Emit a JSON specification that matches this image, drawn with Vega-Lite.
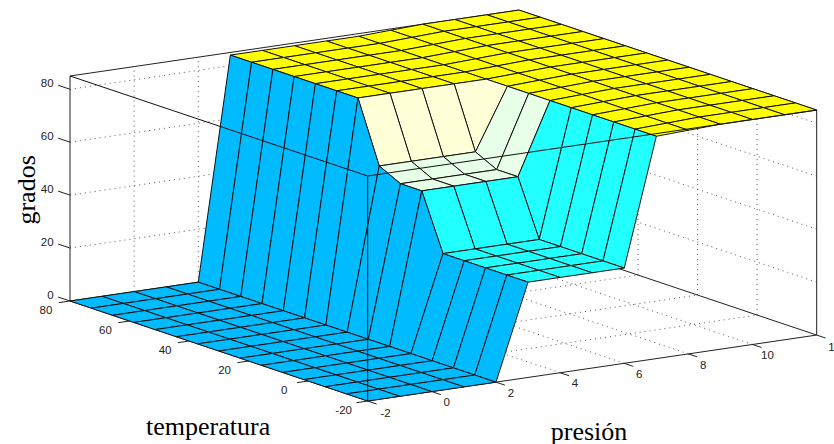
{"$schema":"https://vega.github.io/schema/vega-lite/v6.json","width":834,"height":444,"padding":0,"autosize":{"type":"none"},"background":"white","config":{"view":{"stroke":null}},
"datasets":{
"lines":[
{"s":"d","p":-2,"t":80,"z":20,"p2":12,"t2":80,"z2":20},{"s":"d","p":-2,"t":80,"z":40,"p2":12,"t2":80,"z2":40},{"s":"d","p":-2,"t":80,"z":60,"p2":12,"t2":80,"z2":60},{"s":"d","p":-2,"t":80,"z":80,"p2":12,"t2":80,"z2":80},
{"s":"d","p":12,"t":-20,"z":20,"p2":12,"t2":80,"z2":20},{"s":"d","p":12,"t":-20,"z":40,"p2":12,"t2":80,"z2":40},{"s":"d","p":12,"t":-20,"z":60,"p2":12,"t2":80,"z2":60},{"s":"d","p":12,"t":-20,"z":80,"p2":12,"t2":80,"z2":80},
{"s":"d","p":0,"t":80,"z":0,"p2":0,"t2":80,"z2":85},{"s":"d","p":2,"t":80,"z":0,"p2":2,"t2":80,"z2":85},{"s":"d","p":4,"t":80,"z":0,"p2":4,"t2":80,"z2":85},{"s":"d","p":6,"t":80,"z":0,"p2":6,"t2":80,"z2":85},{"s":"d","p":8,"t":80,"z":0,"p2":8,"t2":80,"z2":85},{"s":"d","p":10,"t":80,"z":0,"p2":10,"t2":80,"z2":85},
{"s":"d","p":12,"t":0,"z":0,"p2":12,"t2":0,"z2":85},{"s":"d","p":12,"t":20,"z":0,"p2":12,"t2":20,"z2":85},{"s":"d","p":12,"t":40,"z":0,"p2":12,"t2":40,"z2":85},{"s":"d","p":12,"t":60,"z":0,"p2":12,"t2":60,"z2":85},
{"s":"d","p":0,"t":-20,"z":0,"p2":0,"t2":80,"z2":0},{"s":"d","p":2,"t":-20,"z":0,"p2":2,"t2":80,"z2":0},{"s":"d","p":4,"t":-20,"z":0,"p2":4,"t2":80,"z2":0},{"s":"d","p":6,"t":-20,"z":0,"p2":6,"t2":80,"z2":0},{"s":"d","p":8,"t":-20,"z":0,"p2":8,"t2":80,"z2":0},{"s":"d","p":10,"t":-20,"z":0,"p2":10,"t2":80,"z2":0},
{"s":"d","p":-2,"t":0,"z":0,"p2":12,"t2":0,"z2":0},{"s":"d","p":-2,"t":20,"z":0,"p2":12,"t2":20,"z2":0},{"s":"d","p":-2,"t":40,"z":0,"p2":12,"t2":40,"z2":0},{"s":"d","p":-2,"t":60,"z":0,"p2":12,"t2":60,"z2":0},
{"s":"s","p":-2,"t":80,"z":0,"p2":-2,"t2":80,"z2":85},{"s":"s","p":12,"t":-20,"z":0,"p2":12,"t2":-20,"z2":85},{"s":"s","p":12,"t":80,"z":0,"p2":12,"t2":80,"z2":85},{"s":"s","p":-2,"t":80,"z":85,"p2":12,"t2":80,"z2":85},{"s":"s","p":12,"t":80,"z":85,"p2":12,"t2":-20,"z2":85},{"s":"s","p":-2,"t":-20,"z":0,"p2":12,"t2":-20,"z2":0},{"s":"s","p":-2,"t":-20,"z":0,"p2":-2,"t2":80,"z2":0},{"s":"s","p":12,"t":-20,"z":0,"p2":12,"t2":80,"z2":0},{"s":"s","p":-2,"t":80,"z":0,"p2":12,"t2":80,"z2":0},
{"s":"s","p":-2,"t":80,"z":0,"p2":-2,"t2":84,"z2":0},{"s":"s","p":-2,"t":80,"z":20,"p2":-2,"t2":84,"z2":20},{"s":"s","p":-2,"t":80,"z":40,"p2":-2,"t2":84,"z2":40},{"s":"s","p":-2,"t":80,"z":60,"p2":-2,"t2":84,"z2":60},{"s":"s","p":-2,"t":80,"z":80,"p2":-2,"t2":84,"z2":80},
{"s":"s","p":-2,"t":80,"z":0,"p2":-2.35,"t2":80,"z2":0},{"s":"s","p":-2,"t":60,"z":0,"p2":-2.35,"t2":60,"z2":0},{"s":"s","p":-2,"t":40,"z":0,"p2":-2.35,"t2":40,"z2":0},{"s":"s","p":-2,"t":20,"z":0,"p2":-2.35,"t2":20,"z2":0},{"s":"s","p":-2,"t":0,"z":0,"p2":-2.35,"t2":0,"z2":0},{"s":"s","p":-2,"t":-20,"z":0,"p2":-2.35,"t2":-20,"z2":0},
{"s":"s","p":-2,"t":-20,"z":0,"p2":-2,"t2":-23,"z2":0},{"s":"s","p":0,"t":-20,"z":0,"p2":0,"t2":-23,"z2":0},{"s":"s","p":2,"t":-20,"z":0,"p2":2,"t2":-23,"z2":0},{"s":"s","p":4,"t":-20,"z":0,"p2":4,"t2":-23,"z2":0},{"s":"s","p":6,"t":-20,"z":0,"p2":6,"t2":-23,"z2":0},{"s":"s","p":8,"t":-20,"z":0,"p2":8,"t2":-23,"z2":0},{"s":"s","p":10,"t":-20,"z":0,"p2":10,"t2":-23,"z2":0},{"s":"s","p":12,"t":-20,"z":0,"p2":12,"t2":-23,"z2":0},
{"s":"f","p":-2,"t":80,"z":85,"p2":-2,"t2":-20,"z2":85},{"s":"f","p":-2,"t":-20,"z":85,"p2":12,"t2":-20,"z2":85},{"s":"f","p":-2,"t":-20,"z":0,"p2":-2,"t2":-20,"z2":85}
],
"labels":[
{"k":"a","text":"0","p":-2,"t":85.5,"z":0},{"k":"a","text":"20","p":-2,"t":85.5,"z":20},{"k":"a","text":"40","p":-2,"t":85.5,"z":40},{"k":"a","text":"60","p":-2,"t":85.5,"z":60},{"k":"a","text":"80","p":-2,"t":85.5,"z":80},
{"k":"b","text":"80","p":-2.75,"t":80,"z":-2.6},{"k":"b","text":"60","p":-2.75,"t":60,"z":-2.6},{"k":"b","text":"40","p":-2.75,"t":40,"z":-2.6},{"k":"b","text":"20","p":-2.75,"t":20,"z":-2.6},{"k":"b","text":"0","p":-2.75,"t":0,"z":-2.6},{"k":"b","text":"-20","p":-2.75,"t":-20,"z":-2.6},
{"k":"b","text":"-2","p":-2,"t":-26,"z":-2.5},{"k":"b","text":"0","p":0,"t":-25,"z":-2.5},{"k":"b","text":"2","p":2,"t":-25,"z":-2.5},{"k":"b","text":"4","p":4,"t":-25,"z":-2.5},{"k":"b","text":"6","p":6,"t":-25,"z":-2.5},{"k":"b","text":"8","p":8,"t":-25,"z":-2.5},{"k":"b","text":"10","p":10,"t":-25,"z":-2.5},{"k":"b","text":"12","p":12,"t":-26,"z":-2.5},
{"k":"c","text":"temperatura","p":-2,"t":33.6,"z":-30.2},{"k":"c","text":"presión","p":4.9,"t":-20,"z":-24},{"k":"d","text":"grados","p":-2,"t":94.5,"z":36.5}
],
"grid":[
{"id":1414,"p":12,"t":80,"z":85},{"id":1413,"p":12,"t":72.86,"z":85},{"id":1412,"p":12,"t":65.71,"z":85},{"id":1411,"p":12,"t":58.57,"z":85},{"id":1410,"p":12,"t":51.43,"z":85},{"id":1409,"p":12,"t":44.29,"z":85},{"id":1408,"p":12,"t":37.14,"z":85},{"id":1407,"p":12,"t":30,"z":85},{"id":1406,"p":12,"t":22.86,"z":85},{"id":1405,"p":12,"t":15.71,"z":85},{"id":1404,"p":12,"t":8.57,"z":85},{"id":1403,"p":12,"t":1.43,"z":85},{"id":1402,"p":12,"t":-5.71,"z":85},{"id":1401,"p":12,"t":-12.86,"z":85},{"id":1400,"p":12,"t":-20,"z":85},
{"id":1314,"p":11,"t":80,"z":85},{"id":1313,"p":11,"t":72.86,"z":85,"c":"a"},{"id":1312,"p":11,"t":65.71,"z":85,"c":"a"},{"id":1311,"p":11,"t":58.57,"z":85,"c":"a"},{"id":1310,"p":11,"t":51.43,"z":85,"c":"a"},{"id":1309,"p":11,"t":44.29,"z":85,"c":"a"},{"id":1308,"p":11,"t":37.14,"z":85,"c":"a"},{"id":1307,"p":11,"t":30,"z":85,"c":"a"},{"id":1306,"p":11,"t":22.86,"z":85,"c":"a"},{"id":1305,"p":11,"t":15.71,"z":85,"c":"a"},{"id":1304,"p":11,"t":8.57,"z":85,"c":"a"},{"id":1303,"p":11,"t":1.43,"z":85,"c":"a"},{"id":1302,"p":11,"t":-5.71,"z":85,"c":"a"},{"id":1301,"p":11,"t":-12.86,"z":85,"c":"a"},{"id":1300,"p":11,"t":-20,"z":85,"c":"a"},
{"id":1214,"p":10,"t":80,"z":85},{"id":1213,"p":10,"t":72.86,"z":85,"c":"a"},{"id":1212,"p":10,"t":65.71,"z":85,"c":"a"},{"id":1211,"p":10,"t":58.57,"z":85,"c":"a"},{"id":1210,"p":10,"t":51.43,"z":85,"c":"a"},{"id":1209,"p":10,"t":44.29,"z":85,"c":"a"},{"id":1208,"p":10,"t":37.14,"z":85,"c":"a"},{"id":1207,"p":10,"t":30,"z":85,"c":"a"},{"id":1206,"p":10,"t":22.86,"z":85,"c":"a"},{"id":1205,"p":10,"t":15.71,"z":85,"c":"a"},{"id":1204,"p":10,"t":8.57,"z":85,"c":"a"},{"id":1203,"p":10,"t":1.43,"z":85,"c":"a"},{"id":1202,"p":10,"t":-5.71,"z":85,"c":"a"},{"id":1201,"p":10,"t":-12.86,"z":85,"c":"a"},{"id":1200,"p":10,"t":-20,"z":85,"c":"a"},
{"id":1114,"p":9,"t":80,"z":85},{"id":1113,"p":9,"t":72.86,"z":85,"c":"a"},{"id":1112,"p":9,"t":65.71,"z":85,"c":"a"},{"id":1111,"p":9,"t":58.57,"z":85,"c":"a"},{"id":1110,"p":9,"t":51.43,"z":85,"c":"a"},{"id":1109,"p":9,"t":44.29,"z":85,"c":"a"},{"id":1108,"p":9,"t":37.14,"z":85,"c":"a"},{"id":1107,"p":9,"t":30,"z":85,"c":"a"},{"id":1106,"p":9,"t":22.86,"z":85,"c":"a"},{"id":1105,"p":9,"t":15.71,"z":85,"c":"a"},{"id":1104,"p":9,"t":8.57,"z":85,"c":"a"},{"id":1103,"p":9,"t":1.43,"z":85,"c":"a"},{"id":1102,"p":9,"t":-5.71,"z":85,"c":"a"},{"id":1101,"p":9,"t":-12.86,"z":85,"c":"a"},{"id":1100,"p":9,"t":-20,"z":85,"c":"a"},
{"id":1014,"p":8,"t":80,"z":84.5},{"id":1013,"p":8,"t":72.86,"z":84.5,"c":"a"},{"id":1012,"p":8,"t":65.71,"z":84.5,"c":"a"},{"id":1011,"p":8,"t":58.57,"z":84.5,"c":"a"},{"id":1010,"p":8,"t":51.43,"z":84.5,"c":"a"},{"id":1009,"p":8,"t":44.29,"z":84.5,"c":"a"},{"id":1008,"p":8,"t":37.14,"z":84.5,"c":"a"},{"id":1007,"p":8,"t":30,"z":84.5,"c":"a"},{"id":1006,"p":8,"t":22.86,"z":84.5,"c":"a"},{"id":1005,"p":8,"t":15.71,"z":84.5,"c":"a"},{"id":1004,"p":8,"t":8.57,"z":84.5,"c":"a"},{"id":1003,"p":8,"t":1.43,"z":84.5,"c":"a"},{"id":1002,"p":8,"t":-5.71,"z":84.5,"c":"a"},{"id":1001,"p":8,"t":-12.86,"z":84.5,"c":"a"},{"id":1000,"p":8,"t":-20,"z":84.5,"c":"a"},
{"id":914,"p":7,"t":80,"z":84},{"id":913,"p":7,"t":72.86,"z":84,"c":"a"},{"id":912,"p":7,"t":65.71,"z":84,"c":"a"},{"id":911,"p":7,"t":58.57,"z":84,"c":"a"},{"id":910,"p":7,"t":51.43,"z":84,"c":"a"},{"id":909,"p":7,"t":44.29,"z":84,"c":"a"},{"id":908,"p":7,"t":37.14,"z":84,"c":"a"},{"id":907,"p":7,"t":30,"z":84,"c":"a"},{"id":906,"p":7,"t":22.86,"z":84,"c":"a"},{"id":905,"p":7,"t":15.71,"z":84,"c":"a"},{"id":904,"p":7,"t":8.57,"z":84,"c":"a"},{"id":903,"p":7,"t":1.43,"z":84,"c":"a"},{"id":902,"p":7,"t":-5.71,"z":84,"c":"a"},{"id":901,"p":7,"t":-12.86,"z":84,"c":"a"},{"id":900,"p":7,"t":-20,"z":84,"c":"a"},
{"id":814,"p":6,"t":80,"z":84},{"id":813,"p":6,"t":72.86,"z":84,"c":"a"},{"id":812,"p":6,"t":65.71,"z":84,"c":"a"},{"id":811,"p":6,"t":58.57,"z":84,"c":"a"},{"id":810,"p":6,"t":51.43,"z":84,"c":"a"},{"id":809,"p":6,"t":44.29,"z":84,"c":"a"},{"id":808,"p":6,"t":37.14,"z":84,"c":"a"},{"id":807,"p":6,"t":30,"z":61,"c":"b"},{"id":806,"p":6,"t":22.86,"z":57,"c":"g"},{"id":805,"p":6,"t":15.71,"z":57,"c":"g"},{"id":804,"p":6,"t":8.57,"z":36,"c":"c"},{"id":803,"p":6,"t":1.43,"z":36,"c":"c"},{"id":802,"p":6,"t":-5.71,"z":36,"c":"c"},{"id":801,"p":6,"t":-12.86,"z":36,"c":"c"},{"id":800,"p":6,"t":-20,"z":36,"c":"c"},
{"id":714,"p":5,"t":80,"z":84},{"id":713,"p":5,"t":72.86,"z":84,"c":"a"},{"id":712,"p":5,"t":65.71,"z":84,"c":"a"},{"id":711,"p":5,"t":58.57,"z":84,"c":"a"},{"id":710,"p":5,"t":51.43,"z":84,"c":"a"},{"id":709,"p":5,"t":44.29,"z":84,"c":"a"},{"id":708,"p":5,"t":37.14,"z":84,"c":"a"},{"id":707,"p":5,"t":30,"z":61,"c":"b"},{"id":706,"p":5,"t":22.86,"z":57,"c":"g"},{"id":705,"p":5,"t":15.71,"z":57,"c":"g"},{"id":704,"p":5,"t":8.57,"z":36,"c":"c"},{"id":703,"p":5,"t":1.43,"z":36,"c":"c"},{"id":702,"p":5,"t":-5.71,"z":36,"c":"c"},{"id":701,"p":5,"t":-12.86,"z":36,"c":"c"},{"id":700,"p":5,"t":-20,"z":36,"c":"c"},
{"id":614,"p":4,"t":80,"z":84},{"id":613,"p":4,"t":72.86,"z":84,"c":"a"},{"id":612,"p":4,"t":65.71,"z":84,"c":"a"},{"id":611,"p":4,"t":58.57,"z":84,"c":"a"},{"id":610,"p":4,"t":51.43,"z":84,"c":"a"},{"id":609,"p":4,"t":44.29,"z":84,"c":"a"},{"id":608,"p":4,"t":37.14,"z":84,"c":"a"},{"id":607,"p":4,"t":30,"z":61,"c":"b"},{"id":606,"p":4,"t":22.86,"z":57,"c":"g"},{"id":605,"p":4,"t":15.71,"z":57,"c":"g"},{"id":604,"p":4,"t":8.57,"z":36,"c":"c"},{"id":603,"p":4,"t":1.43,"z":36,"c":"c"},{"id":602,"p":4,"t":-5.71,"z":36,"c":"c"},{"id":601,"p":4,"t":-12.86,"z":36,"c":"c"},{"id":600,"p":4,"t":-20,"z":36,"c":"c"},
{"id":514,"p":3,"t":80,"z":84},{"id":513,"p":3,"t":72.86,"z":84,"c":"a"},{"id":512,"p":3,"t":65.71,"z":84,"c":"a"},{"id":511,"p":3,"t":58.57,"z":84,"c":"a"},{"id":510,"p":3,"t":51.43,"z":84,"c":"a"},{"id":509,"p":3,"t":44.29,"z":84,"c":"a"},{"id":508,"p":3,"t":37.14,"z":84,"c":"a"},{"id":507,"p":3,"t":30,"z":61,"c":"b"},{"id":506,"p":3,"t":22.86,"z":57,"c":"g"},{"id":505,"p":3,"t":15.71,"z":57,"c":"g"},{"id":504,"p":3,"t":8.57,"z":36,"c":"c"},{"id":503,"p":3,"t":1.43,"z":36,"c":"c"},{"id":502,"p":3,"t":-5.71,"z":36,"c":"c"},{"id":501,"p":3,"t":-12.86,"z":36,"c":"c"},{"id":500,"p":3,"t":-20,"z":36,"c":"c"},
{"id":414,"p":2,"t":80,"z":0},{"id":413,"p":2,"t":72.86,"z":0,"c":"z"},{"id":412,"p":2,"t":65.71,"z":0,"c":"z"},{"id":411,"p":2,"t":58.57,"z":0,"c":"z"},{"id":410,"p":2,"t":51.43,"z":0,"c":"z"},{"id":409,"p":2,"t":44.29,"z":0,"c":"z"},{"id":408,"p":2,"t":37.14,"z":0,"c":"z"},{"id":407,"p":2,"t":30,"z":0,"c":"z"},{"id":406,"p":2,"t":22.86,"z":0,"c":"z"},{"id":405,"p":2,"t":15.71,"z":0,"c":"z"},{"id":404,"p":2,"t":8.57,"z":0,"c":"z"},{"id":403,"p":2,"t":1.43,"z":0,"c":"z"},{"id":402,"p":2,"t":-5.71,"z":0,"c":"z"},{"id":401,"p":2,"t":-12.86,"z":0,"c":"z"},{"id":400,"p":2,"t":-20,"z":0,"c":"z"},
{"id":314,"p":1,"t":80,"z":0},{"id":313,"p":1,"t":72.86,"z":0,"c":"z"},{"id":312,"p":1,"t":65.71,"z":0,"c":"z"},{"id":311,"p":1,"t":58.57,"z":0,"c":"z"},{"id":310,"p":1,"t":51.43,"z":0,"c":"z"},{"id":309,"p":1,"t":44.29,"z":0,"c":"z"},{"id":308,"p":1,"t":37.14,"z":0,"c":"z"},{"id":307,"p":1,"t":30,"z":0,"c":"z"},{"id":306,"p":1,"t":22.86,"z":0,"c":"z"},{"id":305,"p":1,"t":15.71,"z":0,"c":"z"},{"id":304,"p":1,"t":8.57,"z":0,"c":"z"},{"id":303,"p":1,"t":1.43,"z":0,"c":"z"},{"id":302,"p":1,"t":-5.71,"z":0,"c":"z"},{"id":301,"p":1,"t":-12.86,"z":0,"c":"z"},{"id":300,"p":1,"t":-20,"z":0,"c":"z"},
{"id":214,"p":0,"t":80,"z":0},{"id":213,"p":0,"t":72.86,"z":0,"c":"z"},{"id":212,"p":0,"t":65.71,"z":0,"c":"z"},{"id":211,"p":0,"t":58.57,"z":0,"c":"z"},{"id":210,"p":0,"t":51.43,"z":0,"c":"z"},{"id":209,"p":0,"t":44.29,"z":0,"c":"z"},{"id":208,"p":0,"t":37.14,"z":0,"c":"z"},{"id":207,"p":0,"t":30,"z":0,"c":"z"},{"id":206,"p":0,"t":22.86,"z":0,"c":"z"},{"id":205,"p":0,"t":15.71,"z":0,"c":"z"},{"id":204,"p":0,"t":8.57,"z":0,"c":"z"},{"id":203,"p":0,"t":1.43,"z":0,"c":"z"},{"id":202,"p":0,"t":-5.71,"z":0,"c":"z"},{"id":201,"p":0,"t":-12.86,"z":0,"c":"z"},{"id":200,"p":0,"t":-20,"z":0,"c":"z"},
{"id":114,"p":-1,"t":80,"z":0},{"id":113,"p":-1,"t":72.86,"z":0,"c":"z"},{"id":112,"p":-1,"t":65.71,"z":0,"c":"z"},{"id":111,"p":-1,"t":58.57,"z":0,"c":"z"},{"id":110,"p":-1,"t":51.43,"z":0,"c":"z"},{"id":109,"p":-1,"t":44.29,"z":0,"c":"z"},{"id":108,"p":-1,"t":37.14,"z":0,"c":"z"},{"id":107,"p":-1,"t":30,"z":0,"c":"z"},{"id":106,"p":-1,"t":22.86,"z":0,"c":"z"},{"id":105,"p":-1,"t":15.71,"z":0,"c":"z"},{"id":104,"p":-1,"t":8.57,"z":0,"c":"z"},{"id":103,"p":-1,"t":1.43,"z":0,"c":"z"},{"id":102,"p":-1,"t":-5.71,"z":0,"c":"z"},{"id":101,"p":-1,"t":-12.86,"z":0,"c":"z"},{"id":100,"p":-1,"t":-20,"z":0,"c":"z"},
{"id":14,"p":-2,"t":80,"z":0},{"id":13,"p":-2,"t":72.86,"z":0,"c":"z"},{"id":12,"p":-2,"t":65.71,"z":0,"c":"z"},{"id":11,"p":-2,"t":58.57,"z":0,"c":"z"},{"id":10,"p":-2,"t":51.43,"z":0,"c":"z"},{"id":9,"p":-2,"t":44.29,"z":0,"c":"z"},{"id":8,"p":-2,"t":37.14,"z":0,"c":"z"},{"id":7,"p":-2,"t":30,"z":0,"c":"z"},{"id":6,"p":-2,"t":22.86,"z":0,"c":"z"},{"id":5,"p":-2,"t":15.71,"z":0,"c":"z"},{"id":4,"p":-2,"t":8.57,"z":0,"c":"z"},{"id":3,"p":-2,"t":1.43,"z":0,"c":"z"},{"id":2,"p":-2,"t":-5.71,"z":0,"c":"z"},{"id":1,"p":-2,"t":-12.86,"z":0,"c":"z"},{"id":0,"p":-2,"t":-20,"z":0,"c":"z"}
]},
"layer":[
{"data":{"name":"lines"},"transform":[{"filter":"datum.s==='d'"},{"calculate":"367.7+(datum.p+2)*32.07-(datum.t+20)*2.977","as":"sx"},{"calculate":"401-(datum.p+2)*4.71-(datum.t+20)-datum.z*2.647","as":"sy"},{"calculate":"367.7+(datum.p2+2)*32.07-(datum.t2+20)*2.977","as":"sx2"},{"calculate":"401-(datum.p2+2)*4.71-(datum.t2+20)-datum.z2*2.647","as":"sy2"}],
"mark":{"type":"rule","stroke":"#444444","strokeWidth":0.9,"strokeDash":[1,4]},
"encoding":{"x":{"field":"sx","type":"quantitative","scale":{"domain":[0,834],"nice":false,"zero":false},"axis":null},"y":{"field":"sy","type":"quantitative","scale":{"domain":[444,0],"nice":false,"zero":false},"axis":null},"x2":{"field":"sx2"},"y2":{"field":"sy2"}}},
{"data":{"name":"lines"},"transform":[{"filter":"datum.s==='s'"},{"calculate":"367.7+(datum.p+2)*32.07-(datum.t+20)*2.977","as":"sx"},{"calculate":"401-(datum.p+2)*4.71-(datum.t+20)-datum.z*2.647","as":"sy"},{"calculate":"367.7+(datum.p2+2)*32.07-(datum.t2+20)*2.977","as":"sx2"},{"calculate":"401-(datum.p2+2)*4.71-(datum.t2+20)-datum.z2*2.647","as":"sy2"}],
"mark":{"type":"rule","stroke":"#222222","strokeWidth":1},
"encoding":{"x":{"field":"sx","type":"quantitative","scale":{"domain":[0,834],"nice":false,"zero":false},"axis":null},"y":{"field":"sy","type":"quantitative","scale":{"domain":[444,0],"nice":false,"zero":false},"axis":null},"x2":{"field":"sx2"},"y2":{"field":"sy2"}}},
{"data":{"name":"grid"},"transform":[{"filter":"isValid(datum.c)"},{"calculate":"[0,1,2,3,4]","as":"k"},{"flatten":["k"]},{"calculate":"datum.id+100*[0,1,1,0,0][datum.k]+[0,0,1,1,0][datum.k]","as":"corner"},{"lookup":"corner","from":{"data":{"name":"grid"},"key":"id","fields":["p","t","z"]},"as":["pc","tc","zc"]},{"calculate":"367.7+(datum.pc+2)*32.07-(datum.tc+20)*2.977","as":"sx"},{"calculate":"401-(datum.pc+2)*4.71-(datum.tc+20)-datum.zc*2.647","as":"sy"}],
"mark":{"type":"line","stroke":"#111111","strokeWidth":1,"strokeJoin":"bevel","interpolate":"linear"},
"encoding":{"x":{"field":"sx","type":"quantitative","scale":{"domain":[0,834],"nice":false,"zero":false},"axis":null},"y":{"field":"sy","type":"quantitative","scale":{"domain":[444,0],"nice":false,"zero":false},"axis":null},"detail":{"field":"id"},"order":{"field":"k"},"fill":{"field":"c","type":"nominal","legend":null,"scale":{"domain":["a","b","g","c","z"],"range":["#FFFF00","#FFFFD8","#E8FFE8","#22FFFF","#00BBFF"]}}}},
{"data":{"name":"lines"},"transform":[{"filter":"datum.s==='f'"},{"calculate":"367.7+(datum.p+2)*32.07-(datum.t+20)*2.977","as":"sx"},{"calculate":"401-(datum.p+2)*4.71-(datum.t+20)-datum.z*2.647","as":"sy"},{"calculate":"367.7+(datum.p2+2)*32.07-(datum.t2+20)*2.977","as":"sx2"},{"calculate":"401-(datum.p2+2)*4.71-(datum.t2+20)-datum.z2*2.647","as":"sy2"}],
"mark":{"type":"rule","stroke":"#111111","strokeWidth":1},
"encoding":{"x":{"field":"sx","type":"quantitative","scale":{"domain":[0,834],"nice":false,"zero":false},"axis":null},"y":{"field":"sy","type":"quantitative","scale":{"domain":[444,0],"nice":false,"zero":false},"axis":null},"x2":{"field":"sx2"},"y2":{"field":"sy2"}}},
{"data":{"name":"labels"},"transform":[{"filter":"datum.k==='a'"},{"calculate":"367.7+(datum.p+2)*32.07-(datum.t+20)*2.977","as":"sx"},{"calculate":"401-(datum.p+2)*4.71-(datum.t+20)-datum.z*2.647","as":"sy"}],
"mark":{"type":"text","font":"Liberation Sans","fontSize":11.5,"fill":"#222222","align":"right","baseline":"middle"},
"encoding":{"x":{"field":"sx","type":"quantitative","scale":{"domain":[0,834],"nice":false,"zero":false},"axis":null},"y":{"field":"sy","type":"quantitative","scale":{"domain":[444,0],"nice":false,"zero":false},"axis":null},"text":{"field":"text"}}},
{"data":{"name":"labels"},"transform":[{"filter":"datum.k==='b'"},{"calculate":"367.7+(datum.p+2)*32.07-(datum.t+20)*2.977","as":"sx"},{"calculate":"401-(datum.p+2)*4.71-(datum.t+20)-datum.z*2.647","as":"sy"}],
"mark":{"type":"text","font":"Liberation Sans","fontSize":11.5,"fill":"#222222","align":"center","baseline":"middle"},
"encoding":{"x":{"field":"sx","type":"quantitative","scale":{"domain":[0,834],"nice":false,"zero":false},"axis":null},"y":{"field":"sy","type":"quantitative","scale":{"domain":[444,0],"nice":false,"zero":false},"axis":null},"text":{"field":"text"}}},
{"data":{"name":"labels"},"transform":[{"filter":"datum.k==='c'"},{"calculate":"367.7+(datum.p+2)*32.07-(datum.t+20)*2.977","as":"sx"},{"calculate":"401-(datum.p+2)*4.71-(datum.t+20)-datum.z*2.647","as":"sy"}],
"mark":{"type":"text","font":"Liberation Serif","fontSize":26,"fill":"#000000","align":"center","baseline":"middle"},
"encoding":{"x":{"field":"sx","type":"quantitative","scale":{"domain":[0,834],"nice":false,"zero":false},"axis":null},"y":{"field":"sy","type":"quantitative","scale":{"domain":[444,0],"nice":false,"zero":false},"axis":null},"text":{"field":"text"}}},
{"data":{"name":"labels"},"transform":[{"filter":"datum.k==='d'"},{"calculate":"367.7+(datum.p+2)*32.07-(datum.t+20)*2.977","as":"sx"},{"calculate":"401-(datum.p+2)*4.71-(datum.t+20)-datum.z*2.647","as":"sy"}],
"mark":{"type":"text","font":"Liberation Serif","fontSize":26,"fill":"#000000","align":"center","baseline":"middle","angle":270},
"encoding":{"x":{"field":"sx","type":"quantitative","scale":{"domain":[0,834],"nice":false,"zero":false},"axis":null},"y":{"field":"sy","type":"quantitative","scale":{"domain":[444,0],"nice":false,"zero":false},"axis":null},"text":{"field":"text"}}}
]}
